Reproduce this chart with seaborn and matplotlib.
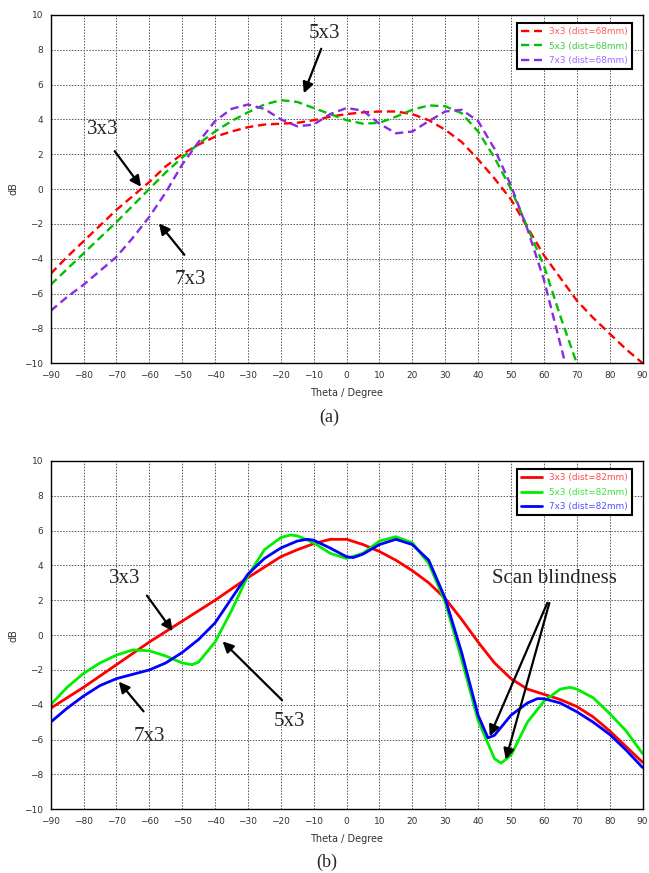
import numpy as np
import pandas as pd
import matplotlib
matplotlib.use("Agg")
import matplotlib.pyplot as plt
import seaborn as sns

# ---- (a) dist = 68 mm, dashed ----
theta_a_3x3 = [-90, -85, -80, -75, -70, -65, -60, -55, -50, -45, -40, -35, -30, -25, -20, -15, -10, -5, 0,
               5, 10, 15, 20, 25, 30, 35, 40, 45, 50, 55, 60, 65, 70, 75, 80, 85, 90]
db_a_3x3 = [-4.87, -3.9, -3.0, -2.1, -1.2, -0.4, 0.4, 1.3, 2.0, 2.55, 3.0, 3.3, 3.55, 3.7, 3.75, 3.8, 3.95, 4.15, 4.3,
            4.4, 4.45, 4.45, 4.3, 3.95, 3.4, 2.7, 1.7, 0.6, -0.6, -2.2, -3.8, -5.1, -6.4, -7.4, -8.3, -9.2, -10.0]

theta_a_5x3 = [-90, -85, -80, -75, -70, -65, -60, -55, -50, -45, -40, -35, -30, -25, -20, -15, -10, -5, 0,
               5, 10, 15, 20, 25, 30, 35, 40, 45, 50, 55, 60, 65, 70]
db_a_5x3 = [-5.5, -4.6, -3.7, -2.8, -1.9, -0.95, 0.0, 0.95, 1.8, 2.6, 3.3, 3.9, 4.4, 4.85, 5.1, 5.0, 4.65, 4.3, 3.95,
            3.75, 3.8, 4.15, 4.55, 4.8, 4.75, 4.35, 3.3, 1.8, 0.0, -2.2, -4.4, -7.3, -10.0]

theta_a_7x3 = [-90, -85, -80, -75, -70, -65, -60, -55, -50, -45, -40, -35, -30, -25, -20, -15, -10, -5, 0,
               5, 10, 15, 20, 25, 30, 35, 40, 45, 50, 55, 60, 65, 66.5]
db_a_7x3 = [-7.0, -6.2, -5.5, -4.7, -3.9, -2.8, -1.6, -0.2, 1.4, 2.7, 3.9, 4.6, 4.85, 4.6, 4.0, 3.6, 3.7, 4.3, 4.65,
            4.5, 3.75, 3.2, 3.3, 3.9, 4.45, 4.55, 3.9, 2.3, 0.2, -2.3, -5.2, -8.9, -10.0]

# ---- (b) dist = 82 mm, solid ----
theta_b_3x3 = [-90, -85, -80, -75, -70, -65, -60, -55, -50, -45, -40, -35, -30, -25, -20, -15, -10, -5, 0,
               5, 10, 15, 20, 25, 30, 35, 40, 45, 50, 55, 60, 65, 70, 75, 80, 85, 90]
db_b_3x3 = [-4.2, -3.6, -3.0, -2.35, -1.7, -1.05, -0.4, 0.2, 0.8, 1.4, 2.0, 2.65, 3.3, 3.9, 4.5, 4.9, 5.25, 5.5, 5.5,
            5.2, 4.8, 4.3, 3.7, 3.0, 2.1, 0.9, -0.4, -1.6, -2.5, -3.1, -3.4, -3.7, -4.1, -4.7, -5.5, -6.4, -7.3]

theta_b_5x3 = [-90, -85, -80, -75, -70, -65, -60, -55, -50, -47, -45, -40, -35, -30, -25, -20, -17, -15, -10, -5, 0,
               5, 10, 15, 20, 25, 30, 35, 40, 45, 47, 50, 55, 60, 65, 68, 70, 75, 80, 85, 90]
db_b_5x3 = [-4.0, -3.0, -2.2, -1.6, -1.15, -0.85, -0.9, -1.2, -1.6, -1.7, -1.55, -0.4, 1.4, 3.4, 4.9, 5.6, 5.75, 5.7, 5.3, 4.7, 4.4,
            4.7, 5.4, 5.65, 5.3, 4.1, 1.9, -1.4, -4.9, -7.1, -7.35, -6.9, -5.0, -3.8, -3.1, -3.0, -3.1, -3.6, -4.5, -5.5, -6.8]

theta_b_7x3 = [-90, -85, -80, -75, -70, -65, -60, -55, -50, -45, -40, -35, -30, -25, -20, -15, -12, -10, -5, 0, 2,
               5, 10, 15, 20, 25, 30, 35, 40, 43, 45, 50, 55, 58, 60, 65, 70, 75, 80, 85, 90]
db_b_7x3 = [-5.0, -4.2, -3.5, -2.9, -2.5, -2.25, -2.0, -1.6, -1.0, -0.25, 0.7, 2.1, 3.5, 4.4, 5.0, 5.4, 5.5, 5.45, 5.0, 4.5, 4.45,
            4.65, 5.2, 5.5, 5.2, 4.3, 2.1, -1.0, -4.6, -5.9, -5.75, -4.6, -3.9, -3.65, -3.65, -3.9, -4.4, -5.0, -5.7, -6.6, -7.6]

labels_a = ["3x3 (dist=68mm)", "5x3 (dist=68mm)", "7x3 (dist=68mm)"]
labels_b = ["3x3 (dist=82mm)", "5x3 (dist=82mm)", "7x3 (dist=82mm)"]
colors_a = ["#ff0000", "#00c000", "#8a2be2"]
colors_b = ["#ff0000", "#00ee00", "#0000ff"]
text_colors_a = ["#ff5a5a", "#3ccc3c", "#a06aff"]
text_colors_b = ["#ff4a4a", "#3ce63c", "#5050ff"]

sns.set_style("white")
plt.rcParams["font.family"] = ["DejaVu Sans"]

fig = plt.figure(figsize=(6.49, 8.73), dpi=100)
ax1 = fig.add_axes([0.078, 0.584, 0.912, 0.399])
ax2 = fig.add_axes([0.078, 0.073, 0.912, 0.399])


def style_axes(ax, text_colors):
    ax.set_xlim(-90, 90)
    ax.set_ylim(-10, 10)
    ax.set_xticks(np.arange(-90, 91, 10))
    ax.set_yticks(np.arange(-10, 11, 2))
    ax.grid(True, linestyle=(0, (1.5, 1.5)), color="#555555", linewidth=0.7)
    ax.tick_params(labelsize=6.5, length=2, direction="out", colors="#333333")
    for s in ax.spines.values():
        s.set_color("black")
        s.set_linewidth(1.0)
    ax.set_xlabel("Theta / Degree", fontsize=7, color="#333333", labelpad=6)
    ax.set_ylabel("dB", fontsize=7, color="#333333", labelpad=4)
    leg = ax.legend(loc="upper right", fontsize=6.4, frameon=True, fancybox=False,
                    edgecolor="black", framealpha=1, handlelength=2.3,
                    borderpad=0.5, labelspacing=0.6,
                    bbox_to_anchor=(0.99, 0.99))
    leg.get_frame().set_linewidth(1.5)
    for txt, c in zip(leg.get_texts(), text_colors):
        txt.set_color(c)


def arrow(ax, tip, tail):
    ax.annotate("", xy=tip, xytext=tail,
                arrowprops=dict(arrowstyle="-|>", color="black", lw=1.6, mutation_scale=16))


serif = {"family": ["Liberation Serif", "DejaVu Serif"], "size": 15}

# ---- panel (a) ----
series_a = [(theta_a_3x3, db_a_3x3), (theta_a_5x3, db_a_5x3), (theta_a_7x3, db_a_7x3)]
for (t, d), c, lab in zip(series_a, colors_a, labels_a):
    sns.lineplot(x=t, y=d, ax=ax1, color=c, label=lab, linewidth=1.7,
                 linestyle=(0, (3.5, 2)), sort=False)
style_axes(ax1, text_colors_a)
ax1.text(-74.1, 3.4, "3x3", ha="center", va="center", fontdict=serif)
arrow(ax1, (-62.0, 0.0), (-71.0, 2.3))
ax1.text(-47.6, -5.2, "7x3", ha="center", va="center", fontdict=serif)
arrow(ax1, (-57.6, -1.85), (-48.8, -3.9))
ax1.text(-6.8, 8.95, "5x3", ha="center", va="center", fontdict=serif)
arrow(ax1, (-13.3, 5.35), (-7.4, 8.2))

# ---- panel (b) ----
series_b = [(theta_b_3x3, db_b_3x3), (theta_b_5x3, db_b_5x3), (theta_b_7x3, db_b_7x3)]
for (t, d), c, lab in zip(series_b, colors_b, labels_b):
    sns.lineplot(x=t, y=d, ax=ax2, color=c, label=lab, linewidth=2.0, sort=False)
style_axes(ax2, text_colors_b)
ax2.text(-67.6, 3.25, "3x3", ha="center", va="center", fontdict=serif)
arrow(ax2, (-52.4, 0.1), (-61.2, 2.4))
ax2.text(-60.0, -5.85, "7x3", ha="center", va="center", fontdict=serif)
arrow(ax2, (-69.8, -2.55), (-61.2, -4.5))
ax2.text(-17.4, -4.95, "5x3", ha="center", va="center", fontdict=serif)
arrow(ax2, (-38.3, -0.25), (-19.0, -3.85))
ax2.text(63.3, 3.25, "Scan blindness", ha="center", va="center", fontdict=serif)
arrow(ax2, (43.2, -5.95), (61.4, 2.0))
arrow(ax2, (48.2, -7.3), (61.9, 2.0))

fig.text(0.507, 0.522, "(a)", ha="center", va="center",
         fontdict={"family": ["Liberation Serif", "DejaVu Serif"], "size": 13})
fig.text(0.504, 0.012, "(b)", ha="center", va="center",
         fontdict={"family": ["Liberation Serif", "DejaVu Serif"], "size": 13})

fig.savefig("out.png", dpi=100, facecolor="white")
